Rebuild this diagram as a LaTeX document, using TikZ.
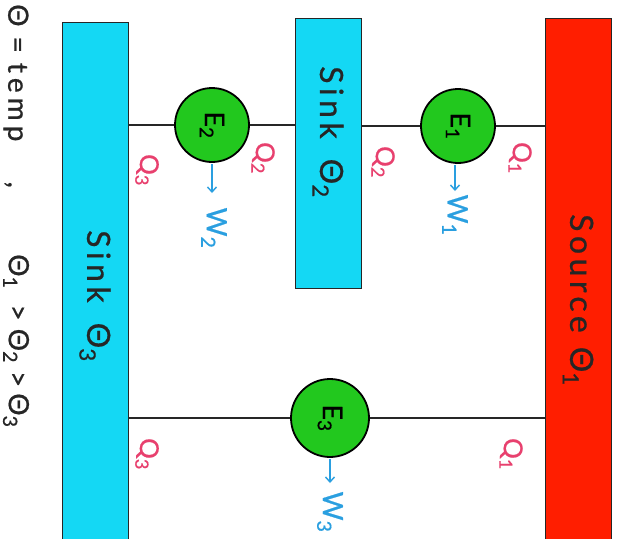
\documentclass[tikz,border=0pt]{standalone}
\usepackage{fontspec}
\setmainfont{Lato}[FakeBold=0.7]
\newfontfamily\hand{Lato}[LetterSpace=14,FakeBold=0.7]
\newfontfamily\handw{Lato}[LetterSpace=18,FakeBold=0.7]
\usetikzlibrary{arrows.meta}
\definecolor{cyanbar}{HTML}{14D8F4}
\definecolor{redbar}{HTML}{FF1E00}
\definecolor{engreen}{HTML}{22C81E}
\definecolor{qpink}{HTML}{E8406E}
\definecolor{wblue}{HTML}{2A9FE0}
\begin{document}
\begin{tikzpicture}[x=1pt,y=-1pt,
  bar/.style={draw=black!85,line width=1.4pt,minimum width=66pt,anchor=north west,inner sep=0pt},
  engine/.style={circle,draw=black,line width=1.8pt,fill=engreen,minimum size=74pt,inner sep=0pt,font=\fontsize{27}{27}\selectfont,rotate=-90},
  barlabel/.style={rotate=-90,font=\hand\fontsize{32}{32}\selectfont,text=black!85},
  qlab/.style={rotate=-90,text=qpink,font=\fontsize{26}{26}\selectfont,inner sep=0pt},
  wlab/.style={rotate=-90,text=wblue,font=\fontsize{28}{28}\selectfont,inner sep=0pt},
  link/.style={draw=black!85,line width=1.3pt},
  warrow/.style={draw=wblue,line width=1.4pt,-{Straight Barb[length=5pt,width=9pt]}}]
\useasboundingbox (0,0) rectangle (625,539);
\clip (0,0) rectangle (625,539);
\fill[white] (0,0) rectangle (625,539);
% reservoirs
\node[bar,fill=cyanbar,minimum height=530pt] (sink3) at (62,22) {};
\node[bar,fill=cyanbar,minimum height=270pt] (sink2) at (295,18) {};
\node[bar,fill=redbar,minimum height=530pt] (source) at (545,18) {};
\node[barlabel] (s3t) at (95,296) {Sink\hspace{20pt}Θ\textsubscript{3}};
\node[barlabel] (s2t) at (328,132) {Sink\hspace{20pt}Θ\textsubscript{2}};
\node[barlabel] (s1t) at (578,300) {Source\hspace{14pt}Θ\textsubscript{1}};
% engines
\node[engine] (e2) at (212,125) {E\textsubscript{2}};
\node[engine] (e1) at (458,126) {E\textsubscript{1}};
\node[engine,minimum size=78pt] (e3) at (330,418) {E\textsubscript{3}};
% connectors
\draw[link] (sink3.east |- e2) -- (e2);
\draw[link] (e2) -- (sink2.west |- e2);
\draw[link] (sink2.east |- e1) -- (e1);
\draw[link] (e1) -- (source.west |- e1);
\draw[link] (sink3.east |- e3) -- (e3);
\draw[link] (e3) -- (source.west |- e3);
% heat labels
\node[qlab] (q3a) at (147,170) {Q\textsubscript{3}};
\node[qlab] (q2a) at (263,158) {Q\textsubscript{2}};
\node[qlab] (q2b) at (383,162) {Q\textsubscript{2}};
\node[qlab] (q1a) at (520,158) {Q\textsubscript{1}};
\node[qlab] (q3b) at (147,454) {Q\textsubscript{3}};
\node[qlab] (q1b) at (511,454) {Q\textsubscript{1}};
% work
\coordinate (w2s) at (212,193);
\coordinate (w1s) at (455,191);
\coordinate (w3s) at (330,483);
\draw[warrow] (212,164) -- (w2s);
\draw[warrow] (455,165) -- (w1s);
\draw[warrow] (330,459) -- (w3s);
\node[wlab] (w2) at (214,228) {W\textsubscript{2}};
\node[wlab] (w1) at (455,215) {W\textsubscript{1}};
\node[wlab] (w3) at (330,512) {W\textsubscript{3}};
% legend
\node[rotate=-90,font=\handw\fontsize{28}{28}\selectfont,text=black!85,anchor=west,inner sep=0pt] (legend1) at (16,4)
  {Θ\hspace{10pt}=\hspace{10pt}temp\hspace{40pt},};
\node[rotate=-90,font=\handw\fontsize{28}{28}\selectfont,text=black!85,anchor=west,inner sep=0pt] (legend2) at (16,254)
  {Θ\textsubscript{1}\hspace{16pt}>\hspace{8pt}Θ\textsubscript{2}\hspace{8pt}>\hspace{6pt}Θ\textsubscript{3}};
\end{tikzpicture}
\end{document}
